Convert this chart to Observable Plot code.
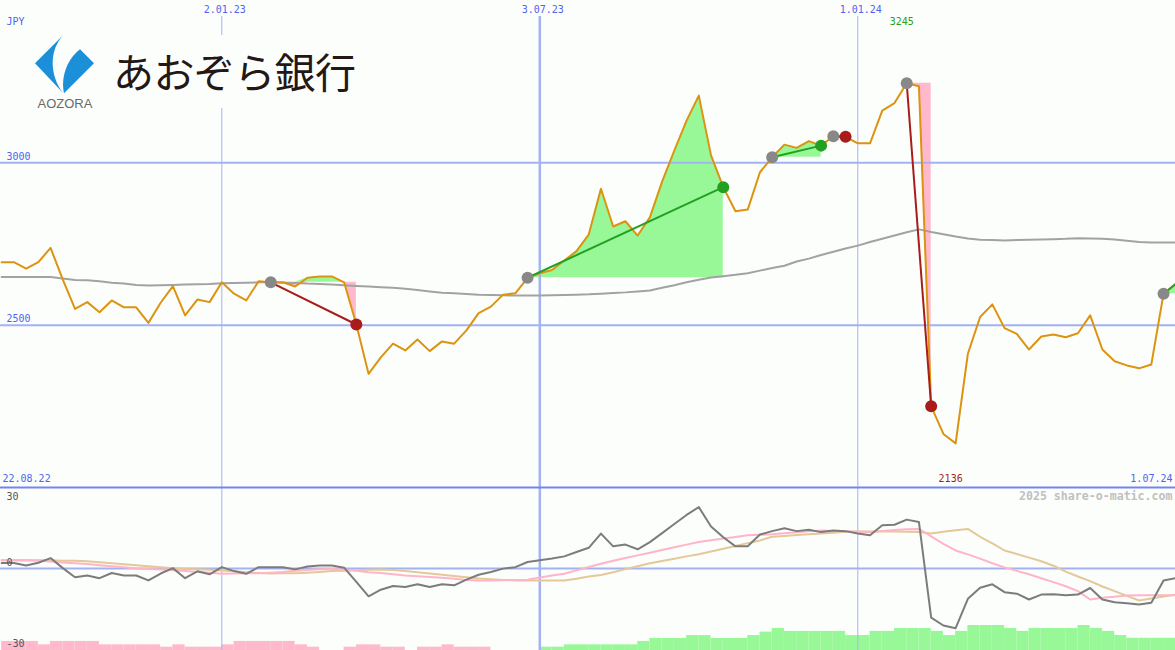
<!DOCTYPE html>
<html><head><meta charset="utf-8">
<script src="https://cdn.jsdelivr.net/npm/d3@7"></script>
<script src="https://cdn.jsdelivr.net/npm/@observablehq/plot@0.6"></script>
<style>
html,body{margin:0;padding:0;background:#fcfefc;}
#chart{position:relative;width:1175px;height:650px;overflow:hidden;background:#fcfefc;}
#chart svg.plot-svg{display:block;}
#logo{position:absolute;left:35px;top:35px;overflow:visible;}
</style></head><body>
<div id="chart">
<svg id="logo" width="322" height="73" viewBox="0 0 322 73">
<rect x="0" y="0" width="322" height="73" fill="#fcfefc"/>
<path d="M28.3,0 L0,28.3 L28.3,58.3 C14.2,40 14.2,15 28.3,0 Z" fill="#1b8fd7"/>
<path d="M45,14.3 L59,28.3 L29,58.3 C26,45 30,26 45,14.3 Z" fill="#1b8fd7"/>
<text x="2.5" y="73.3" font-family="Liberation Sans" font-size="13" fill="#6a6a6a">AOZORA</text>
<text x="78" y="52.5" font-family="Noto Sans CJK JP" font-size="41" letter-spacing="-0.6" fill="#231815">あおぞら銀行</text>
</svg>
</div>
<script>
// ---- data (weekly, Mondays from 2022-08-29 to 2024-07-01) ----
const price = [2694,2694,2674,2694,2738,2640,2550,2571,2540,2576,2555,2555,2507,2569,2620,2530,2579,2571,
  2632,2597,2576,2635,2632,2632,2619,2646,2650,2650,
  2632,2502,2350,2401,2443,2422,2456,2420,2450,2443,
  2484,2537,2557,2594,2598,2646,2660,2670,2699,2728,
  2779,2920,2804,2820,2776,2832,2942,3038,3130,3207,
  3023,2925,2851,2856,2971,3017,3056,3046,3067,3053,
  3082,3080,3060,3060,3161,3184,3245,3236,2250,2165,
  2136,2412,2525,2564,2491,2473,2425,2465,2471,2463,
  2475,2530,2425,2389,2376,2367,2379,2597,2627];
const movingAvg = [2648,2648,2648,2648,2648,2644,2639,2638,2635,2631,2628,2624,2622,2623,2624,2625,2626,2627,
  2629,2630,2631,2632,2632,2631,2630,2628,2627,2625,
  2623,2621,2619,2617,2615,2612,2608,2604,2600,2598,
  2596,2594,2593,2592,2591,2591,2591,2592,2593,2594,
  2595,2597,2599,2601,2604,2607,2615,2623,2632,2640,
  2647,2651,2655,2660,2668,2676,2683,2696,2705,2716,
  2726,2736,2745,2756,2766,2776,2786,2795,2787,2780,
  2773,2767,2763,2762,2761,2762,2763,2764,2765,2766,
  2768,2767,2766,2764,2760,2756,2755,2755,2755];
const momentum = [2.2,2.2,1.2,2.3,4.2,0.1,-3.6,-2.9,-4.0,-1.9,-2.9,-2.9,-4.9,-2.1,0.1,-4.0,-1.2,-2.4,
  0.5,-1.1,-2.2,0.5,0.5,0.5,-0.4,0.8,1.2,1.2,
  0.3,-5.5,-11.4,-8.7,-7.2,-7.6,-6.5,-7.6,-6.5,-6.9,
  -4.6,-2.6,-1.5,-0.1,0.5,2.6,3.3,4.0,4.9,6.7,
  8.4,14.2,9.0,9.7,7.8,10.7,14.4,18.1,21.8,25.0,
  17.1,12.7,9.0,9.0,13.8,15.2,16.4,15.2,15.8,14.8,
  15.5,15.2,14.2,13.5,17.6,17.8,19.9,18.9,-20.1,-23.3,
  -24.4,-12.4,-7.9,-6.5,-9.7,-10.3,-12.7,-10.7,-10.6,-11.0,
  -10.7,-8.0,-12.7,-13.8,-14.2,-14.7,-14.0,-4.9,-4.0];
const fastAvg = [3.3,3.3,3.3,3.1,2.8,2.4,2.1,1.8,1.3,0.9,0.5,0.0,-0.3,-0.5,-0.8,-1.1,-1.5,-1.8,
  -2.2,-2.1,-2.0,-2.0,-1.8,-1.5,-1.0,-0.7,-0.4,-0.2,
  -0.5,-1.0,-1.6,-1.9,-2.4,-2.9,-3.2,-3.5,-3.8,-4.2,
  -4.7,-4.9,-4.9,-4.8,-4.7,-4.6,-3.7,-2.9,-2.2,-0.8,
  0.6,1.9,3.1,4.2,5.3,6.4,7.5,8.6,9.7,10.8,
  11.5,12.2,12.8,13.5,13.7,13.9,14.3,14.7,15.1,15.5,
  15.3,15.1,14.9,14.8,15.3,15.7,16.0,16.1,13.1,10.0,
  7.3,5.7,4.0,2.1,0.4,-1.0,-2.4,-4.0,-5.6,-7.3,
  -9.3,-12.7,-12.0,-11.6,-11.1,-11.0,-11.0,-11.0,-11.0];
const slowAvg = [3.3,3.3,3.3,3.3,3.3,3.1,3.1,2.9,2.5,2.1,1.7,1.3,0.9,0.5,0.1,-0.2,-0.4,-0.6,
  -0.9,-1.2,-1.6,-1.9,-2.1,-2.0,-2.0,-1.8,-1.5,-1.1,
  -1.0,-0.8,-0.6,-0.5,-0.7,-1.1,-1.6,-2.1,-2.6,-3.1,
  -3.6,-4.1,-4.4,-4.7,-4.9,-4.9,-4.9,-4.9,-4.9,-4.2,
  -3.3,-2.7,-1.6,-0.3,0.9,2.1,3.0,3.9,4.9,5.8,
  6.9,8.0,9.1,10.3,11.4,12.9,13.2,13.6,13.9,14.2,
  14.5,14.9,15.1,15.1,15.1,15.0,14.9,14.8,14.2,14.9,
  15.6,16.1,12.9,10.2,7.3,5.9,4.4,2.9,1.1,-1.3,
  -3.3,-5.2,-7.4,-9.3,-11.2,-13.1,-12.3,-11.5,-10.7];
const strength = [-3.7,-3.7,-3.7,-2.3,-3.7,-3.7,-3.7,-3.7,-2.3,-2.3,-2.3,-2.3,-2.3,-1.35,-2.3,-1.35,-1.35,-1.35,
  -2.3,-3.7,-3.7,-3.7,-3.7,-3.7,-2.3,-1.35,0,0,
  -1.35,-2.3,-2.3,-1.35,-1.35,0,-1.35,-1.35,-2.3,-1.35,
  -1.35,-1.35,0,0,0,0,1.35,1.35,2.3,2.3,
  2.3,2.3,2.3,2.3,3.7,4.9,4.9,4.9,6.1,6.1,
  4.9,4.9,4.9,6.1,7.5,9.0,7.8,7.8,7.8,7.8,
  7.8,6.1,6.1,7.8,7.8,9.0,9.0,9.0,7.8,6.1,
  7.8,10.2,10.2,10.2,9.0,7.8,9.0,9.0,9.0,9.0,
  10.2,9.0,7.8,6.1,5.0,5.0,5.0,5.0,5.0];

const tradeEntries = ["2023-01-30","2023-06-26","2023-11-13","2023-12-18","2024-01-29","2024-06-24"];
const tradeExits   = ["2023-03-20","2023-10-16","2023-12-11","2023-12-25","2024-02-12","2024-07-01"];
const tradeResults = ["loss","gain","gain","loss","loss","open"];

const dateLines = ["2023-01-02","2023-07-03","2024-01-01"].map(s => new Date(s));
const priceTicks = [3000, 2500];
const lowerTicks = [30, -30];
const lowerZero = [0];
const rangeStart = "22.08.22";
const rangeEnd = "1.07.24";
const currency = "JPY";
const credit = "2025 share-o-matic.com";

// ---- build tables ----
const weeks = d3.utcMonday.range(new Date(Date.UTC(2022,7,29)), new Date(Date.UTC(2024,6,2)));
const rows = weeks.map((date, i) => ({date, price: price[i], ma: movingAvg[i], mom: momentum[i],
  fast: fastAvg[i], slow: slowAvg[i], bar: strength[i]}));
const idxOf = s => rows.findIndex(r => +r.date === +new Date(s));
const trades = tradeEntries.map((e, t) => {
  const i0 = idxOf(e), i1 = idxOf(tradeExits[t]);
  return {t, i0, i1, d0: rows[i0].date, d1: rows[i1].date, p0: rows[i0].price, p1: rows[i1].price, result: tradeResults[t]};
});
const fillRows = trades.flatMap(tr => rows.slice(tr.i0, tr.i1 + 1).map(r => ({
  t: tr.t, date: r.date, base: tr.p0, up: Math.max(r.price, tr.p0), down: Math.min(r.price, tr.p0)})));

const C = {grid:"#a3b2f2", text:"#5064ee", price:"#dc9410", ma:"#a2a2a2", green:"#22a022", red:"#a81c1c",
  gray:"#888888", fillG:"#98f898", fillP:"#ffb8cc", pinkLine:"#ffb4c8", tanLine:"#e4c898", mom:"#7c7c7c", border:"#7486ee"};
const MONO = "DejaVu Sans Mono";
const xDomain = [new Date(Date.UTC(2022,7,28,8)), new Date(Date.UTC(2024,5,30,20))];
const fmt = d3.utcFormat("%-d.%m.%y");
const maxRow = rows.reduce((a, b) => b.price > a.price ? b : a);
const minRow = rows.reduce((a, b) => b.price < a.price ? b : a);
const resColor = r => r === "loss" ? C.red : C.green;

const main = Plot.plot({
  width: 1175, height: 487, margin: 0,
  style: {background: "transparent", overflow: "visible"},
  x: {type: "utc", domain: xDomain, axis: null},
  y: {domain: [2000, 3500], axis: null},
  marks: [
    Plot.areaY(fillRows, {x: "date", y1: "base", y2: "up", z: "t", fill: C.fillG, curve: "linear"}),
    Plot.areaY(fillRows, {x: "date", y1: "base", y2: "down", z: "t", fill: C.fillP, curve: "linear"}),
    Plot.ruleY(priceTicks, {stroke: C.grid, strokeWidth: 2}),
    Plot.ruleX(dateLines, {filter: d => d.getUTCMonth() !== 6, stroke: C.grid, strokeWidth: 1, insetTop: 16}),
    Plot.ruleX(dateLines, {filter: d => d.getUTCMonth() === 6, stroke: C.grid, strokeWidth: 2.5, insetTop: 16}),
    Plot.lineY(rows, {x: "date", y: "ma", stroke: C.ma, strokeWidth: 2, clip: true}),
    Plot.lineY(rows, {x: "date", y: "price", stroke: C.price, strokeWidth: 2, clip: true}),
    Plot.link(trades, {x1: "d0", y1: "p0", x2: "d1", y2: "p1", stroke: d => resColor(d.result), strokeWidth: 2}),
    Plot.dot(trades, {x: "d0", y: "p0", r: 6, fill: C.gray}),
    Plot.dot(trades.filter(d => d.result !== "open"), {x: "d1", y: "p1", r: 6, fill: d => resColor(d.result)}),
    Plot.text([currency], {frameAnchor: "top-left", textAnchor: "start", lineAnchor: "middle", dx: 6, dy: 21,
      fill: C.text, fontFamily: MONO, fontSize: 10}),
    Plot.text(priceTicks, {y: d => d, text: d => String(d), frameAnchor: "left", textAnchor: "start", lineAnchor: "middle",
      dx: 6, dy: -6.5, fill: C.text, fontFamily: MONO, fontSize: 10}),
    Plot.text(dateLines, {x: d => d, text: d => fmt(d), frameAnchor: "top", lineAnchor: "middle", dy: 9, dx: 3,
      fill: C.text, fontFamily: MONO, fontSize: 10}),
    Plot.text([rangeStart], {frameAnchor: "bottom-left", textAnchor: "start", lineAnchor: "middle", dx: 2, dy: -9,
      fill: C.text, fontFamily: MONO, fontSize: 10}),
    Plot.text([rangeEnd], {frameAnchor: "bottom-right", textAnchor: "end", lineAnchor: "middle", dx: -3, dy: -9,
      fill: C.text, fontFamily: MONO, fontSize: 10}),
    Plot.text([maxRow], {x: "date", text: d => String(d.price), frameAnchor: "top", lineAnchor: "middle", dy: 21, dx: -5,
      fill: C.green, fontFamily: MONO, fontSize: 10}),
    Plot.text([minRow], {x: "date", text: d => String(d.price), frameAnchor: "bottom", lineAnchor: "middle", dy: -9, dx: -5,
      fill: C.red, fontFamily: MONO, fontSize: 10})
  ]
});

const lowDomain = [-33.5, 33];
const lower = Plot.plot({
  width: 1175, height: 163, margin: 0,
  style: {background: "transparent", overflow: "visible"},
  x: {type: "utc", domain: xDomain, axis: null},
  y: {domain: lowDomain, axis: null},
  marks: [
    Plot.rect(rows.filter(d => d.bar !== 0), {x1: "date", x2: d => d3.utcDay.offset(d.date, 7),
      y1: lowDomain[0], y2: d => lowDomain[0] + Math.abs(d.bar), fill: d => d.bar > 0 ? C.fillG : C.fillP, clip: true}),
    Plot.ruleX(dateLines, {filter: d => d.getUTCMonth() !== 6, stroke: C.grid, strokeWidth: 1}),
    Plot.ruleX(dateLines, {filter: d => d.getUTCMonth() === 6, stroke: C.grid, strokeWidth: 2.5}),
    Plot.ruleY(lowerZero, {stroke: C.grid, strokeWidth: 2}),
    Plot.lineY(rows, {x: "date", y: "slow", stroke: C.tanLine, strokeWidth: 2, clip: true}),
    Plot.lineY(rows, {x: "date", y: "fast", stroke: C.pinkLine, strokeWidth: 2, clip: true}),
    Plot.lineY(rows, {x: "date", y: "mom", stroke: C.mom, strokeWidth: 2, clip: true}),
    Plot.ruleY([lowDomain[1]], {stroke: C.border, strokeWidth: 2}),
    Plot.text(lowerTicks, {y: d => d, text: d => String(d), frameAnchor: "left", textAnchor: "start", lineAnchor: "middle",
      dx: 6, dy: 1.5, fill: "#555", fontFamily: MONO, fontSize: 10}),
    Plot.text(lowerZero, {y: d => d, text: d => String(d), frameAnchor: "left", textAnchor: "start", lineAnchor: "middle",
      dx: 6, dy: -6, fill: "#555", fontFamily: MONO, fontSize: 10}),
    Plot.text([credit], {frameAnchor: "top-right", textAnchor: "end", lineAnchor: "middle", dx: -3, dy: 9,
      fill: "#c0c0c0", fontFamily: MONO, fontSize: 11.6, fontWeight: "bold"})
  ]
});
main.classList.add("plot-svg");
lower.classList.add("plot-svg");
const chart = document.getElementById("chart");
const logo = document.getElementById("logo");
chart.insertBefore(main, logo);
chart.insertBefore(lower, logo);
</script>
</body></html>
